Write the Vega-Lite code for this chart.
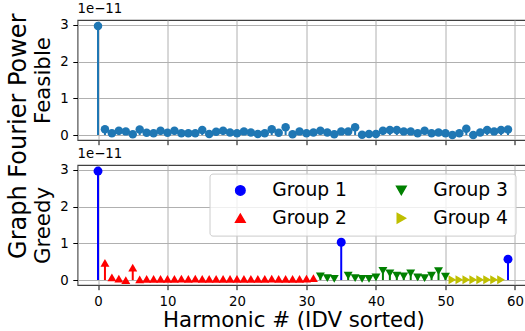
{
  "$schema": "https://vega.github.io/schema/vega-lite/v6.json",
  "autosize": {"type": "pad"},
  "padding": {"left": 6.5, "top": 1, "right": 0, "bottom": 0},
  "background": "white",
  "config": {
    "font": "DejaVu Sans",
    "view": {"stroke": "#404040", "strokeWidth": 1.1},
    "axis": {
      "grid": true, "gridColor": "#b0b0b0", "gridWidth": 1,
      "domain": false, "tickColor": "#000000", "tickSize": 4.7, "tickWidth": 1,
      "labelFont": "DejaVu Sans", "labelFontSize": 13.3, "labelColor": "#000000", "labelPadding": 4.5,
      "titleFont": "DejaVu Sans", "titleFontWeight": "normal", "titleColor": "#000000", "titleFontSize": 21.3
    },
    "title": {"font": "DejaVu Sans", "fontWeight": "normal", "color": "#000000"},
    "legend": {
      "labelFont": "DejaVu Sans", "labelFontSize": 18.7, "labelColor": "#000000"
    }
  },
  "title": {"text": "Graph Fourier Power", "orient": "left", "anchor": "middle", "fontSize": 24, "offset": 1, "dx": 30},
  "datasets": {
    "feasible": [
      {"n":0,"power":2.97},{"n":1,"power":0.16},{"n":2,"power":0.05},{"n":3,"power":0.12},{"n":4,"power":0.10},
      {"n":5,"power":0.02},{"n":6,"power":0.15},{"n":7,"power":0.06},{"n":8,"power":0.05},{"n":9,"power":0.12},
      {"n":10,"power":0.06},{"n":11,"power":0.12},{"n":12,"power":0.05},{"n":13,"power":0.05},{"n":14,"power":0.05},
      {"n":15,"power":0.14},{"n":16,"power":0.03},{"n":17,"power":0.09},{"n":18,"power":0.12},{"n":19,"power":0.07},
      {"n":20,"power":0.05},{"n":21,"power":0.10},{"n":22,"power":0.07},{"n":23,"power":0.03},{"n":24,"power":0.05},
      {"n":25,"power":0.16},{"n":26,"power":0.06},{"n":27,"power":0.21},{"n":28,"power":0.02},{"n":29,"power":0.10},
      {"n":30,"power":0.05},{"n":31,"power":0.07},{"n":32,"power":0.12},{"n":33,"power":0.07},{"n":34,"power":0.02},
      {"n":35,"power":0.10},{"n":36,"power":0.10},{"n":37,"power":0.21},{"n":38,"power":0.01},{"n":39,"power":0.03},
      {"n":40,"power":0.03},{"n":41,"power":0.12},{"n":42,"power":0.14},{"n":43,"power":0.14},{"n":44,"power":0.10},
      {"n":45,"power":0.10},{"n":46,"power":0.05},{"n":47,"power":0.12},{"n":48,"power":0.05},{"n":49,"power":0.07},
      {"n":50,"power":0.05},{"n":51,"power":0.00},{"n":52,"power":0.05},{"n":53,"power":0.17},{"n":54,"power":0.00},
      {"n":55,"power":0.07},{"n":56,"power":0.14},{"n":57,"power":0.10},{"n":58,"power":0.14},{"n":59,"power":0.15}
    ],
    "greedy": [
      {"n":0,"power":2.97,"group":"Group 1"},
      {"n":1,"power":0.47,"group":"Group 2"},{"n":2,"power":0.07,"group":"Group 2"},{"n":3,"power":0.04,"group":"Group 2"},
      {"n":4,"power":0.00,"group":"Group 2"},{"n":5,"power":0.34,"group":"Group 2"},{"n":6,"power":0.02,"group":"Group 2"},
      {"n":7,"power":0.03,"group":"Group 2"},{"n":8,"power":0.03,"group":"Group 2"},{"n":9,"power":0.03,"group":"Group 2"},
      {"n":10,"power":0.03,"group":"Group 2"},{"n":11,"power":0.03,"group":"Group 2"},{"n":12,"power":0.04,"group":"Group 2"},
      {"n":13,"power":0.03,"group":"Group 2"},{"n":14,"power":0.04,"group":"Group 2"},{"n":15,"power":0.03,"group":"Group 2"},
      {"n":16,"power":0.03,"group":"Group 2"},{"n":17,"power":0.03,"group":"Group 2"},{"n":18,"power":0.03,"group":"Group 2"},
      {"n":19,"power":0.03,"group":"Group 2"},{"n":20,"power":0.03,"group":"Group 2"},{"n":21,"power":0.03,"group":"Group 2"},
      {"n":22,"power":0.03,"group":"Group 2"},{"n":23,"power":0.03,"group":"Group 2"},{"n":24,"power":0.03,"group":"Group 2"},
      {"n":25,"power":0.04,"group":"Group 2"},{"n":26,"power":0.03,"group":"Group 2"},{"n":27,"power":0.03,"group":"Group 2"},
      {"n":28,"power":0.03,"group":"Group 2"},{"n":29,"power":0.03,"group":"Group 2"},{"n":30,"power":0.04,"group":"Group 2"},
      {"n":31,"power":0.05,"group":"Group 2"},
      {"n":32,"power":0.10,"group":"Group 3"},{"n":33,"power":0.05,"group":"Group 3"},{"n":34,"power":0.03,"group":"Group 3"},
      {"n":35,"power":1.03,"group":"Group 1"},
      {"n":36,"power":0.12,"group":"Group 3"},{"n":37,"power":0.05,"group":"Group 3"},{"n":38,"power":0.03,"group":"Group 3"},
      {"n":39,"power":0.03,"group":"Group 3"},{"n":40,"power":0.07,"group":"Group 3"},{"n":41,"power":0.25,"group":"Group 3"},
      {"n":42,"power":0.18,"group":"Group 3"},{"n":43,"power":0.12,"group":"Group 3"},{"n":44,"power":0.10,"group":"Group 3"},
      {"n":45,"power":0.18,"group":"Group 3"},{"n":46,"power":0.07,"group":"Group 3"},{"n":47,"power":0.05,"group":"Group 3"},
      {"n":48,"power":0.12,"group":"Group 3"},{"n":49,"power":0.24,"group":"Group 3"},{"n":50,"power":0.09,"group":"Group 3"},
      {"n":51,"power":0.01,"group":"Group 4"},{"n":52,"power":0.01,"group":"Group 4"},{"n":53,"power":0.01,"group":"Group 4"},
      {"n":54,"power":0.01,"group":"Group 4"},{"n":55,"power":0.01,"group":"Group 4"},{"n":56,"power":0.01,"group":"Group 4"},
      {"n":57,"power":0.01,"group":"Group 4"},{"n":58,"power":0.01,"group":"Group 4"},
      {"n":59,"power":0.57,"group":"Group 1"}
    ]
  },
  "spacing": 0,
  "vconcat": [
    {
      "width": 451, "height": 120,
      "title": {"text": "1e−11", "anchor": "start", "fontSize": 13.3, "offset": 3, "frame": "group"},
      "data": {"name": "feasible"},
      "encoding": {
        "x": {"field": "n", "type": "quantitative",
              "scale": {"domain": [-2.95, 61.95], "nice": false, "zero": false},
              "axis": {"values": [0,10,20,30,40,50,60], "labels": false, "title": null}},
        "y": {"field": "power", "type": "quantitative",
              "scale": {"domain": [-0.135, 3.135], "nice": false, "zero": false},
              "axis": {"values": [0,1,2,3], "title": "Feasible", "titlePadding": 6}}
      },
      "layer": [
        {"mark": {"type": "rule", "color": "#1f77b4", "strokeWidth": 2},
         "encoding": {"y2": {"datum": 0}}},
        {"mark": {"type": "point", "shape": "circle", "filled": true, "opacity": 1, "color": "#1f77b4", "size": 72}}
      ]
    },
    {
      "width": 451, "height": 120,
      "title": {"text": "1e−11", "anchor": "start", "fontSize": 13.3, "offset": 3, "frame": "group"},
      "data": {"name": "greedy"},
      "encoding": {
        "x": {"field": "n", "type": "quantitative",
              "scale": {"domain": [-2.95, 61.95], "nice": false, "zero": false},
              "axis": {"values": [0,10,20,30,40,50,60], "title": "Harmonic # (IDV sorted)", "titlePadding": 2, "titleX": 216}},
        "y": {"field": "power", "type": "quantitative",
              "scale": {"domain": [-0.135, 3.135], "nice": false, "zero": false},
              "axis": {"values": [0,1,2,3], "title": "Greedy", "titlePadding": 6}},
        "color": {"field": "group", "type": "nominal",
                  "scale": {"domain": ["Group 1","Group 2","Group 3","Group 4"], "range": ["#0000ff","#ff0000","#008000","#bfbf00"]},
                  "legend": {"title": null, "orient": "none", "legendX": 132, "legendY": 153.6, "columns": 2,
                             "padding": 7, "symbolOffset": 14.5, "labelOffset": 22.5, "columnPadding": 30, "rowPadding": 8.3,
                             "strokeColor": "#cccccc", "fillColor": "rgba(255,255,255,0.8)", "cornerRadius": 3,
                             "symbolSize": 90, "symbolOpacity": 1}}
      },
      "layer": [
        {"mark": {"type": "rule", "strokeWidth": 2}},
        {"mark": {"type": "point", "filled": true, "opacity": 1, "size": 80},
         "encoding": {
           "shape": {"field": "group", "type": "nominal",
                     "scale": {"domain": ["Group 1","Group 2","Group 3","Group 4"], "range": ["circle","triangle-up","triangle-down","triangle-right"]},
                     "legend": {"title": null, "orient": "none", "legendX": 132, "legendY": 153.6, "columns": 2,
                                "padding": 7, "symbolOffset": 14.5, "labelOffset": 22.5, "columnPadding": 30, "rowPadding": 8.3,
                                "strokeColor": "#cccccc", "fillColor": "rgba(255,255,255,0.8)", "cornerRadius": 3,
                                "symbolSize": 90, "symbolOpacity": 1}}
         }}
      ],
      "resolve": {"legend": {"color": "shared", "shape": "shared"}}
    }
  ]
}
